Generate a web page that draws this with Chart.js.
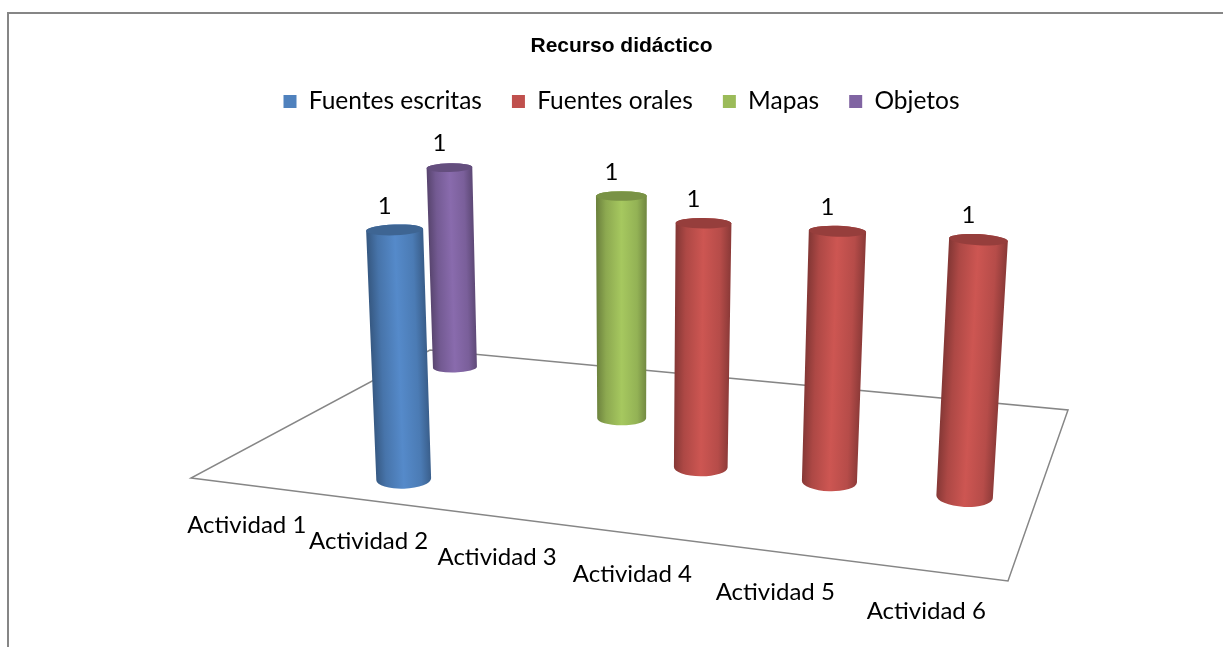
<!DOCTYPE html>
<html lang="es">
<head>
<meta charset="utf-8">
<title>Recurso didáctico</title>
<script src="https://cdn.jsdelivr.net/npm/chart.js@4"></script>
<style>
    html, body { margin: 0; padding: 0; background: #fff; overflow: hidden; }
    #marco { position: absolute; left: 7px; top: 12px; right: 0; bottom: 0; border-left: 2px solid #868686; border-top: 2px solid #868686; }
    #grafico { position: absolute; left: 0; top: 0; width: 1223px; height: 647px; }
</style>
</head>
<body>
<div id="marco"></div>
<div id="grafico"><canvas id="chart-recurso"></canvas></div>
<script>
const actividades = ["Actividad 1", "Actividad 2", "Actividad 3", "Actividad 4", "Actividad 5", "Actividad 6"];
const fuentesEscritas = [null, 1, null, null, null, null];
const fuentesOrales = [null, null, null, 1, 1, 1];
const mapas = [null, null, 1, null, null, null];
const objetos = [1, null, null, null, null, null];
const valorMaximo = 1;

// Perspectiva del gráfico 3D: esquinas del suelo y punto de fuga de las verticales
const suelo = { frenteIzq: [191, 478], frenteDer: [1008, 581], fondoDer: [1068, 410], fondoIzq: [430, 350] };
const fuga = { x: 630, y: 6700 };
const techo = { escala: 0.557, desplazamiento: -37 };
const proporcionAncho = 0.22;

function puntoSuelo(u, v) {
    const [x0, y0] = suelo.frenteIzq;
    const [x1, y1] = suelo.frenteDer;
    const [x2, y2] = suelo.fondoDer;
    const [x3, y3] = suelo.fondoIzq;
    const dx1 = x1 - x2, dx2 = x3 - x2, sx = x0 - x1 + x2 - x3;
    const dy1 = y1 - y2, dy2 = y3 - y2, sy = y0 - y1 + y2 - y3;
    const det = dx1 * dy2 - dx2 * dy1;
    const g = (sx * dy2 - dx2 * sy) / det;
    const h = (dx1 * sy - sx * dy1) / det;
    const den = g * u + h * v + 1;
    return {
        x: ((x1 - x0 + g * x1) * u + (x3 - x0 + h * x3) * v + x0) / den,
        y: ((y1 - y0 + g * y1) * u + (y3 - y0 + h * y3) * v + y0) / den
    };
}

function alturaTecho(p) {
    return techo.escala * p.y + techo.desplazamiento;
}

// Sube un punto del suelo hasta la altura t (0 = suelo, 1 = máximo del eje)
function subir(p, t) {
    const y = p.y + (alturaTecho(p) - p.y) * t;
    return { x: fuga.x + (p.x - fuga.x) * (fuga.y - y) / (fuga.y - p.y), y };
}

function tono(hex, f) {
    const n = parseInt(hex.slice(1), 16);
    const c = [n >> 16, (n >> 8) & 255, n & 255].map((v) => Math.min(255, Math.round(v * f)));
    return `rgb(${c[0]},${c[1]},${c[2]})`;
}

function geometria(chart, datasetIndex, index, valor) {
    const { x: ejeX, y: ejeY } = chart.scales;
    const u = (ejeX.getPixelForValue(index) - ejeX.left) / ejeX.width;
    const v = (datasetIndex + 0.5) / chart.data.datasets.length;
    const t = (ejeY.bottom - ejeY.getPixelForValue(valor)) / ejeY.height;
    const base = puntoSuelo(u, v);
    const ancho = (base.y - alturaTecho(base)) * proporcionAncho;
    return { base, tope: subir(base, t), ancho, anchoTope: ancho * (1 + 0.04 * t) };
}

class CilindroController extends Chart.BarController {
    draw() {
        const meta = this._cachedMeta;
        const ctx = this.chart.ctx;
        const color = this.getDataset().backgroundColor;
        meta.data.forEach((_, i) => {
            const parsed = this.getParsed(i);
            if (parsed.y === null || parsed.y === undefined || isNaN(parsed.y)) return;
            const { base, tope, ancho, anchoTope } = geometria(this.chart, meta.index, i, parsed.y);
            const giroBase = Math.atan((base.x - fuga.x) / (fuga.y - base.y));
            const giroTope = Math.atan((tope.x - fuga.x) / (fuga.y - tope.y));
            // La elipse de la base se abre al acercarse al frente
            const ryBase = 5 + 0.04 * (base.y - 368);
            const ryTope = anchoTope * 0.095;
            const mx = (base.x + tope.x) / 2, my = (base.y + tope.y) / 2;
            const cos = Math.cos(giroTope), sin = Math.sin(giroTope);
            const grad = ctx.createLinearGradient(mx - cos * ancho / 2, my - sin * ancho / 2, mx + cos * ancho / 2, my + sin * ancho / 2);
            grad.addColorStop(0, tono(color, 0.7));
            grad.addColorStop(0.18, tono(color, 0.9));
            grad.addColorStop(0.5, tono(color, 1.07));
            grad.addColorStop(0.82, tono(color, 0.95));
            grad.addColorStop(1, tono(color, 0.74));

            ctx.save();
            ctx.beginPath();
            ctx.ellipse(base.x, base.y, ancho / 2, ryBase, giroBase, Math.PI, 0, true);
            ctx.ellipse(tope.x, tope.y, anchoTope / 2, ryTope, giroTope, 0, Math.PI, true);
            ctx.closePath();
            ctx.fillStyle = grad;
            ctx.fill();
            ctx.beginPath();
            ctx.ellipse(tope.x, tope.y, anchoTope / 2, ryTope, giroTope, 0, Math.PI * 2);
            ctx.fillStyle = tono(color, 0.78);
            ctx.fill();
            ctx.restore();
        });
    }
}
CilindroController.id = "cilindro";
CilindroController.defaults = Chart.BarController.defaults;
Chart.register(CilindroController);

// Suelo del gráfico, debajo de los cilindros
const pluginSuelo = {
    id: "suelo",
    beforeDatasetsDraw(chart) {
        const ctx = chart.ctx;
        ctx.save();
        ctx.beginPath();
        [suelo.frenteIzq, suelo.frenteDer, suelo.fondoDer, suelo.fondoIzq].forEach(([x, y], i) => {
            if (i === 0) ctx.moveTo(x, y); else ctx.lineTo(x, y);
        });
        ctx.closePath();
        ctx.strokeStyle = "#868686";
        ctx.lineWidth = 1.5;
        ctx.stroke();
        ctx.restore();
    }
};

// Etiquetas de categoría y de valor siguen la misma perspectiva
const pluginEtiquetas = {
    id: "etiquetas",
    afterDatasetsDraw(chart) {
        const ctx = chart.ctx;
        const ejeX = chart.scales.x;
        ctx.save();
        ctx.font = "24px Lato";
        ctx.fillStyle = "#000";
        ctx.textAlign = "center";
        ctx.textBaseline = "middle";
        actividades.forEach((nombre, i) => {
            const p = puntoSuelo((ejeX.getPixelForValue(i) - ejeX.left) / ejeX.width, 0);
            ctx.fillText(nombre, p.x - 3, p.y + 40);
        });
        chart.data.datasets.forEach((ds, d) => {
            ds.data.forEach((valor, i) => {
                if (valor === null) return;
                const { tope } = geometria(chart, d, i, valor);
                ctx.fillText(String(valor), tope.x - 10, tope.y - 24);
            });
        });
        ctx.restore();
    }
};

new Chart(document.getElementById("chart-recurso").getContext("2d"), {
    type: "cilindro",
    data: {
        labels: actividades,
        datasets: [
            { label: "Fuentes escritas", data: fuentesEscritas, backgroundColor: "#4f81bd", borderWidth: 0 },
            { label: "Fuentes orales", data: fuentesOrales, backgroundColor: "#c0504d", borderWidth: 0 },
            { label: "Mapas", data: mapas, backgroundColor: "#9bbb59", borderWidth: 0 },
            { label: "Objetos", data: objetos, backgroundColor: "#8064a2", borderWidth: 0 }
        ]
    },
    options: {
        responsive: true,
        maintainAspectRatio: false,
        animation: false,
        layout: { padding: { left: 20 } },
        plugins: {
            title: {
                display: true,
                text: "Recurso didáctico",
                color: "#000",
                font: { family: "Liberation Sans", size: 21, weight: "bold" },
                padding: { top: 34, bottom: 0 }
            },
            legend: {
                position: "top",
                labels: {
                    boxWidth: 13,
                    boxHeight: 13,
                    padding: 30,
                    color: "#000",
                    font: { family: "Lato", size: 24.5 }
                }
            },
            tooltip: { enabled: false }
        },
        scales: {
            x: { type: "category", offset: true, display: false },
            y: { type: "linear", min: 0, max: valorMaximo, display: false }
        }
    },
    plugins: [pluginSuelo, pluginEtiquetas]
});
</script>
</body>
</html>
